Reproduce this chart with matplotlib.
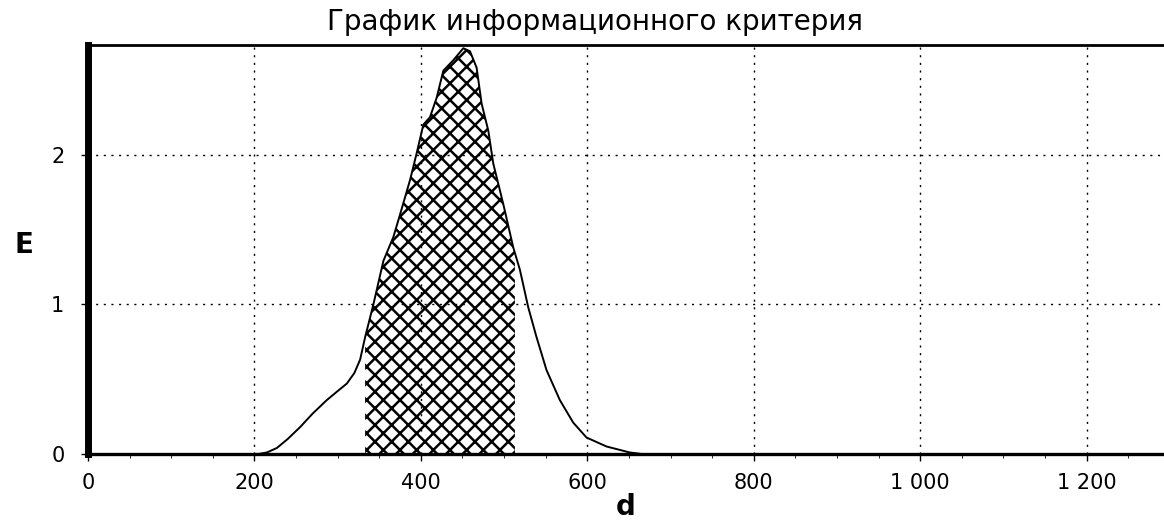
import numpy as np
import matplotlib.pyplot as plt
from matplotlib.ticker import MultipleLocator, FuncFormatter

# кривая информационного критерия E(d)
d = np.array([205, 215, 227, 240, 255, 270, 287, 300, 311, 320, 327, 333, 343,
              355, 367, 375, 387, 395, 403, 411, 419, 427, 439, 451, 459, 467,
              473, 481, 487, 499, 511, 519, 529, 539, 551, 567, 583, 599, 623,
              651, 665])
E = np.array([0.0, 0.01, 0.04, 0.10, 0.18, 0.27, 0.36, 0.42, 0.47, 0.54, 0.63,
              0.78, 1.00, 1.29, 1.45, 1.60, 1.83, 2.01, 2.20, 2.25, 2.38, 2.56,
              2.63, 2.71, 2.69, 2.58, 2.34, 2.16, 1.94, 1.67, 1.38, 1.23, 0.98,
              0.78, 0.56, 0.36, 0.21, 0.11, 0.05, 0.01, 0.0])

# рабочая зона (заштрихована)
d_lo, d_hi = 333, 513

xticks = [0, 200, 400, 600, 800, 1000, 1200]
yticks = [0, 1, 2]

plt.rcParams['font.family'] = ['DejaVu Sans']
plt.rcParams['hatch.linewidth'] = 1.8

fig = plt.figure(figsize=(11.64, 5.2), dpi=100)
ax = fig.add_axes([0.0756, 0.127, 0.9244, 0.786])

ax.plot(d, E, color='black', lw=1.4)
mask = (d >= d_lo) & (d <= d_hi)
dd = np.concatenate([[d_lo], d[mask], [d_hi]])
ee = np.interp(dd, d, E)
ax.fill_between(dd, 0, ee, facecolor='white', edgecolor='black',
                hatch='xx', lw=0)

ax.set_xlim(0, 1293)
ax.set_ylim(0, 2.73)
ax.set_xticks(xticks)
ax.set_yticks(yticks)
ax.xaxis.set_minor_locator(MultipleLocator(50))
ax.xaxis.set_major_formatter(FuncFormatter(lambda v, p: f'{int(v):,}'.replace(',', ' ')))
ax.grid(True, which='major', color='black', ls=(0, (1.5, 4)), lw=1.0)
ax.tick_params(axis='both', which='major', labelsize=15, length=5, width=1)
ax.tick_params(axis='x', which='major', pad=9)
ax.tick_params(axis='y', which='major', pad=12)
ax.tick_params(axis='x', which='minor', length=3)

ax.spines['left'].set_linewidth(5)
ax.spines['bottom'].set_linewidth(2.4)
ax.spines['top'].set_linewidth(2)
ax.spines['right'].set_visible(False)

ax.set_title('График информационного критерия', fontsize=20, pad=11, x=0.471)
ax.set_xlabel('d', fontsize=20, fontweight='bold', labelpad=0)
ax.set_ylabel('E', fontsize=20, fontweight='bold', rotation=0, va='center', ha='center')
ax.yaxis.set_label_coords(-0.0595, 0.511)

fig.savefig('out.png', dpi=100)
